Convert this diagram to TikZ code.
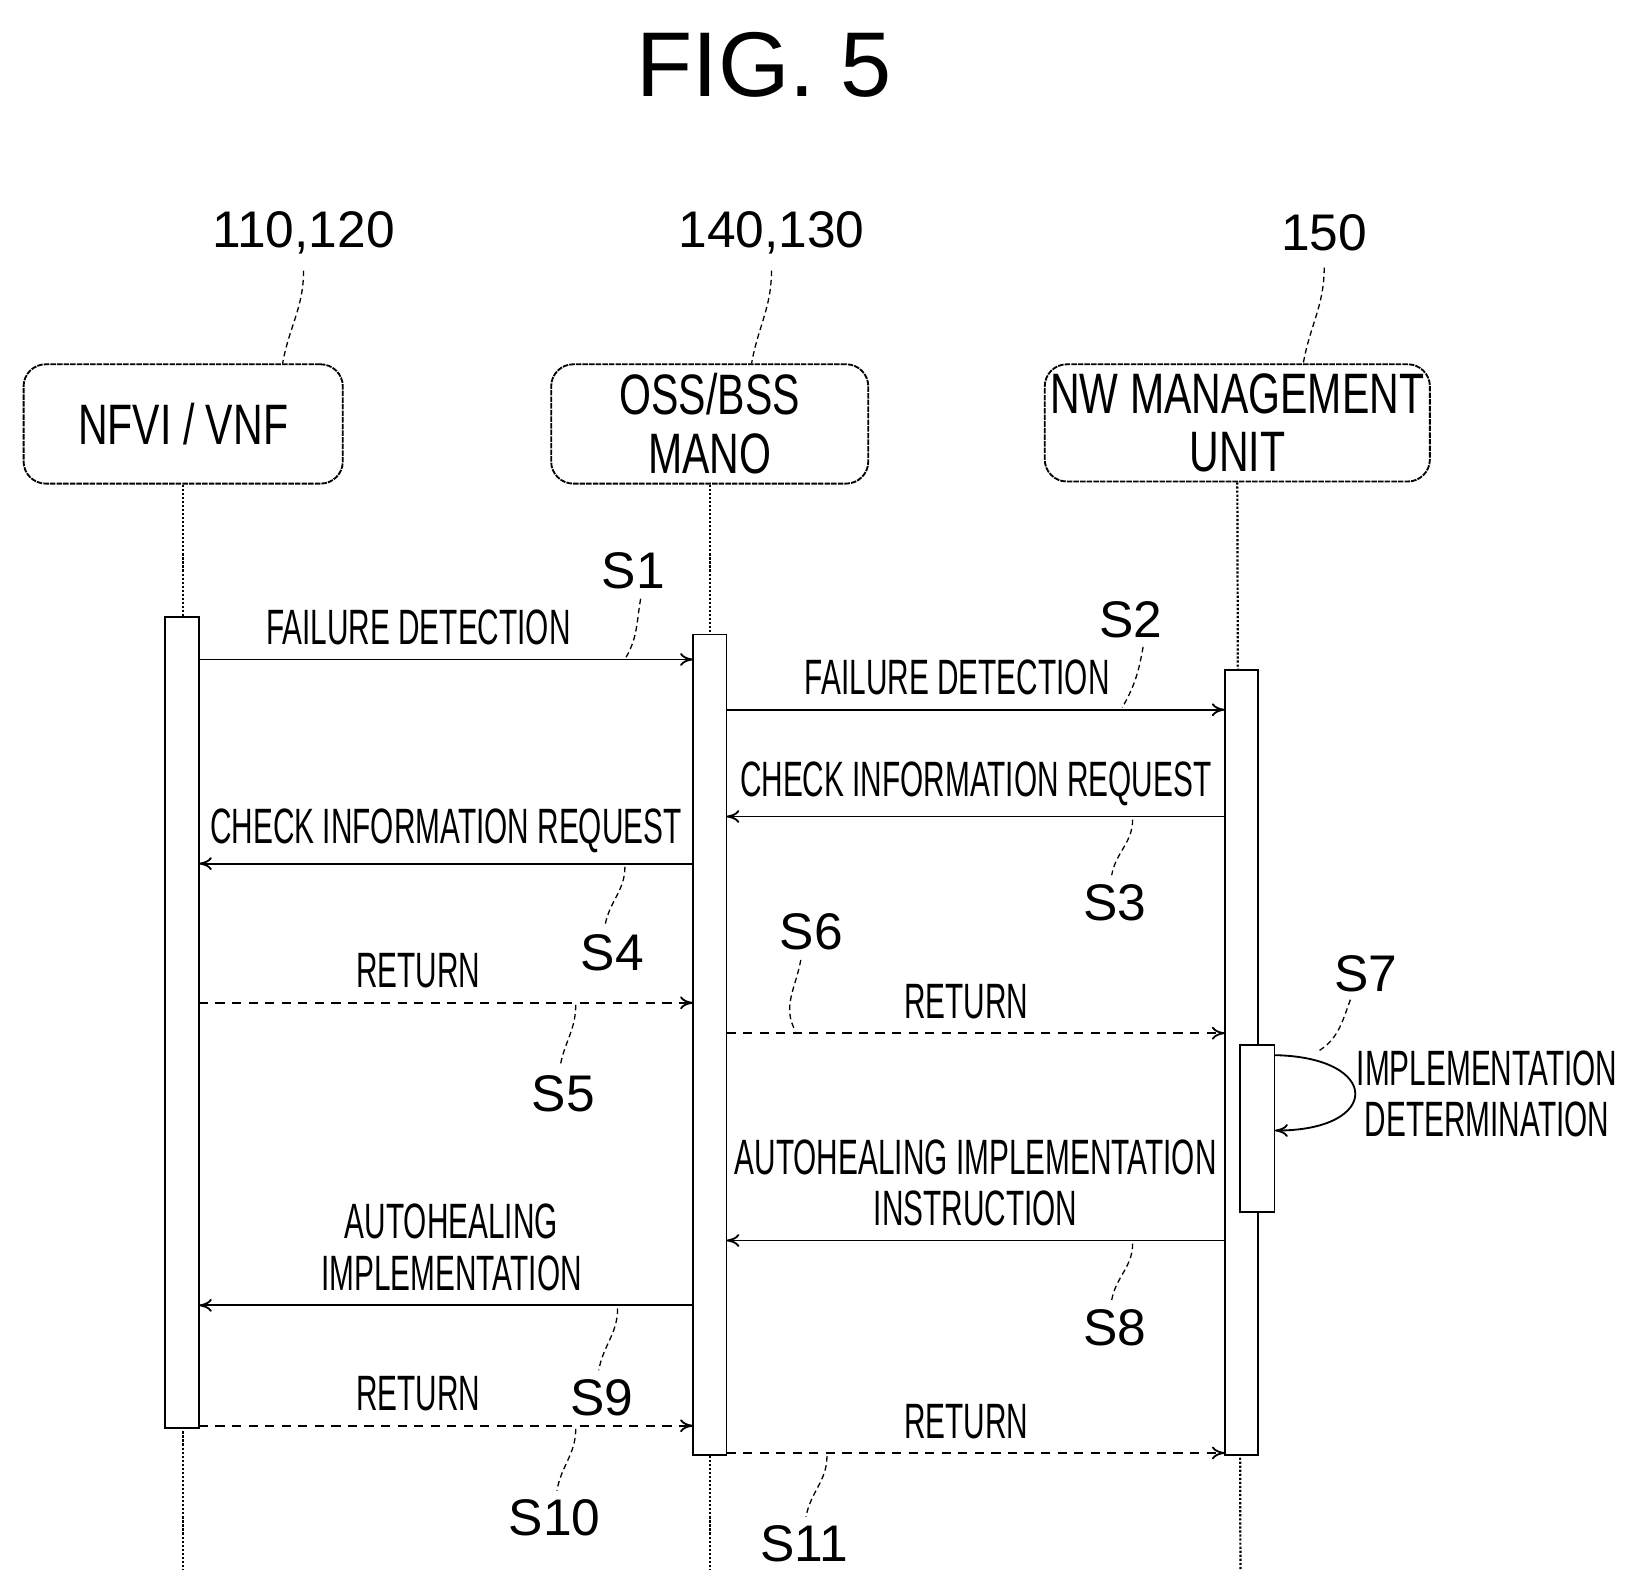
\documentclass[tikz,border=0pt]{standalone}
\usepackage{fontspec}
\setmainfont{Liberation Sans}
\newfontfamily\narrowfont[FakeStretch=0.6]{Liberation Sans}
\newfontfamily\boxfont[FakeStretch=0.72]{Liberation Sans}
\usetikzlibrary{arrows.meta}
\begin{document}
\begin{tikzpicture}
      [x=0.02cm, y=-0.02cm,
        actor/.style={draw, rounded corners=12pt, line width=1pt, dash pattern=on 3pt off 0.6pt, inner sep=0pt, align=center, font=\boxfont\fontsize{31}{32}\selectfont},
        bar/.style={draw, fill=white, line width=1pt},
        life/.style={densely dotted, line width=1.2pt},
        msg/.style={line width=1pt, -{To[length=7pt,width=7pt]}},
        ret/.style={msg, dash pattern=on 5pt off 4pt},
        lead/.style={line width=0.7pt, densely dashed},
        txt/.style={font=\narrowfont\fontsize{27}{28}\selectfont, align=center},
        steplbl/.style={font=\fontsize{28}{28}\selectfont},
        ref/.style={font=\fontsize{28}{28}\selectfont}]
      \useasboundingbox (0,0) rectangle (1560,1514);
      \node[font=\fontsize{50}{50}\selectfont] (fig) at (730,62) {FIG. 5};
      % actors
      \node[actor] (nfvi) at (175,405) [minimum width=6.1cm, minimum height=2.28cm] {NFVI / VNF};
      \node[actor] (oss) at (678,405) [minimum width=6.06cm, minimum height=2.28cm] {OSS/BSS\\MANO};
      \node[actor] (nw) at (1182,404) [minimum width=7.36cm, minimum height=2.24cm] {NW MANAGEMENT\\UNIT};
      \node[ref] (r1) at (290,222) {110,120};
      \node[ref] (r2) at (737,222) {140,130};
      \node[ref] (r3) at (1265,222) {150};
      \draw[lead] (r1.south) ++(0,10) to[out=-90,in=80] (nfvi.north -| 270,0);
      \draw[lead] (r2.south) ++(0,10) to[out=-90,in=80] (oss.north -| 718,0);
      \draw[lead] (r3.south) ++(0,10) to[out=-90,in=80] (nw.north -| 1245,0);
      % lifelines
      \draw[life] (nfvi.south) -- (175,1500);
      \draw[life] (oss.south) -- (678,1500);
      \draw[life] (nw.south) -- (1185,1500);
      % activation bars
      \node[bar, minimum width=0.64cm, minimum height=15.5cm, inner sep=0pt] (b1) at (174,977) {};
      \node[bar, minimum width=0.64cm, minimum height=15.68cm, inner sep=0pt] (b2) at (678,998) {};
      \node[bar, minimum width=0.64cm, minimum height=15.0cm, inner sep=0pt] (b3) at (1186,1015) {};
      \node[bar, minimum width=0.66cm, minimum height=3.2cm, inner sep=0pt] (b4) at (1201,1078) {};
      % messages
      \draw[msg] (190,630) -- (662,630) node[txt, midway, above=4pt, xshift=-15pt] (m1) {FAILURE DETECTION};
      \draw[msg] (694,678) -- (1170,678) node[txt, midway, above=4pt, xshift=-10pt] (m2) {FAILURE DETECTION};
      \draw[msg] (1170,780) -- (694,780) node[txt, midway, above=2pt] (m3) {CHECK INFORMATION REQUEST};
      \draw[msg] (662,825) -- (190,825) node[txt, midway, above=2pt] (m4) {CHECK INFORMATION REQUEST};
      \draw[ret] (190,958) -- (662,958) node[txt, midway, above=4pt, xshift=-15pt] (m5) {RETURN};
      \draw[ret] (694,987) -- (1170,987) node[txt, midway, above=4pt, xshift=-5pt] (m6) {RETURN};
      \draw[msg] (1218,1008) .. controls (1320,1010) and (1320,1080) .. (1218,1080);
      \node[txt, anchor=west] (m7) at (1290,1045) {IMPLEMENTATION\\DETERMINATION};
      \draw[msg] (1170,1185) -- (694,1185) node[txt, midway, above=4pt] (m8) {AUTOHEALING IMPLEMENTATION\\INSTRUCTION};
      \draw[msg] (662,1247) -- (190,1247) node[txt, midway, above=4pt, xshift=3pt] (m9) {AUTOHEALING\\IMPLEMENTATION};
      \draw[ret] (190,1362) -- (662,1362) node[txt, midway, above=4pt, xshift=-15pt] (m10) {RETURN};
      \draw[ret] (694,1388) -- (1170,1388) node[txt, midway, above=4pt, xshift=-5pt] (m11) {RETURN};
      % step labels
      \node[steplbl] (s1) at (605,545) {S1};
      \node[steplbl] (s2) at (1080,592) {S2};
      \node[steplbl] (s3) at (1065,862) {S3};
      \node[steplbl] (s4) at (585,910) {S4};
      \node[steplbl] (s5) at (538,1045) {S5};
      \node[steplbl] (s6) at (775,890) {S6};
      \node[steplbl] (s7) at (1305,930) {S7};
      \node[steplbl] (s8) at (1065,1268) {S8};
      \node[steplbl] (s9) at (575,1335) {S9};
      \node[steplbl] (s10) at (530,1450) {S10};
      \node[steplbl] (s11) at (768,1475) {S11};
      \draw[lead] (612,572) to[out=-100,in=60] (598,628);
      \draw[lead] (1092,618) to[out=-100,in=60] (1072,676);
      \draw[lead] (1082,783) to[out=-90,in=80] (1062,836);
      \draw[lead] (597,828) to[out=-90,in=80] (578,884);
      \draw[lead] (550,960) to[out=-90,in=80] (535,1019);
      \draw[lead] (765,917) to[out=-100,in=120] (760,985);
      \draw[lead] (1290,955) to[out=-110,in=30] (1258,1005);
      \draw[lead] (1082,1188) to[out=-90,in=80] (1062,1242);
      \draw[lead] (590,1250) to[out=-90,in=80] (572,1309);
      \draw[lead] (550,1365) to[out=-90,in=80] (532,1424);
      \draw[lead] (790,1391) to[out=-90,in=80] (770,1449);
\end{tikzpicture}
\end{document}
